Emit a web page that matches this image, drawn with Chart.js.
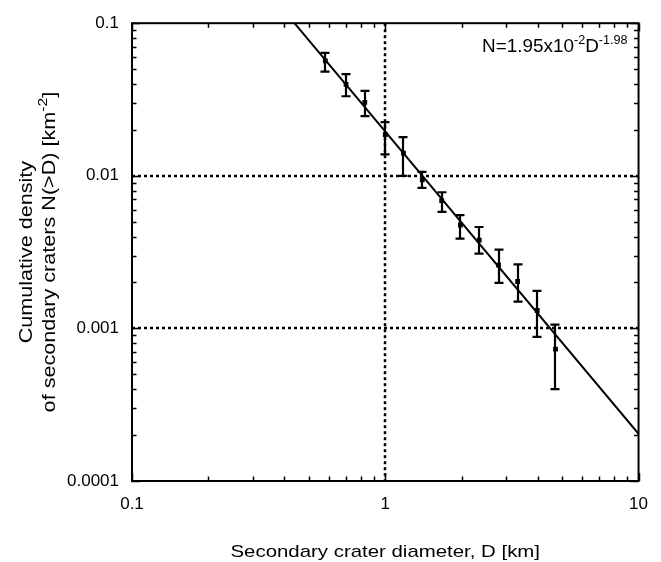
<!DOCTYPE html>
<html>
<head>
<meta charset="utf-8">
<script src="https://cdn.jsdelivr.net/npm/chart.js@4/dist/chart.umd.min.js"></script>
<style>
html,body{margin:0;padding:0;background:#fff;}
canvas{display:block;}
</style>
</head>
<body>
<canvas id="c" width="661" height="562"></canvas>
<script>
// ---- data ----
const diameters = [0.58, 0.70, 0.83, 1.0, 1.18, 1.40, 1.67, 1.98, 2.35, 2.80, 3.33, 3.98, 4.70];
const density   = [0.0566, 0.0397, 0.0303, 0.0186, 0.0141, 0.00942, 0.00687, 0.00476, 0.00379, 0.00260, 0.00203, 0.00131, 0.000732];
const errHigh   = [0.0640, 0.0464, 0.0360, 0.0225, 0.0179, 0.0106, 0.00780, 0.00552, 0.00462, 0.00328, 0.00263, 0.00176, 0.00106];
const errLow    = [0.0481, 0.0332, 0.0246, 0.0138, 0.0100, 0.00833, 0.00580, 0.00387, 0.00309, 0.00199, 0.00150, 0.000879, 0.000400];
const fitX = [0.438, 10];
const fitY = [0.1, 0.000204];
const xTickVals = [0.1, 1, 10];
const xTickLabels = ['0.1', '1', '10'];
const yTickVals = [0.0001, 0.001, 0.01, 0.1];
const yTickLabels = ['0.0001', '0.001', '0.01', '0.1'];
const xTitle = 'Secondary crater diameter, D [km]';
const yTitle1 = 'Cumulative density';
const yTitle2 = 'of secondary craters N(>D) [km';

const FONT = '"Liberation Sans", Arial, Helvetica, sans-serif';

const decorPlugin = {
  id: 'decor',
  beforeDatasetsDraw(chart) {
    const {ctx, chartArea: a, scales: {x, y}} = chart;
    ctx.save();
    ctx.strokeStyle = '#000';
    ctx.lineWidth = 2.5;
    ctx.setLineDash([3, 3]);
    xTickVals.forEach(v => {
      if (v <= x.min || v >= x.max) return;
      const px = Math.round(x.getPixelForValue(v));
      ctx.beginPath(); ctx.moveTo(px, a.top); ctx.lineTo(px, a.bottom); ctx.stroke();
    });
    yTickVals.forEach(v => {
      if (v <= y.min || v >= y.max) return;
      const py = Math.round(y.getPixelForValue(v));
      ctx.beginPath(); ctx.moveTo(a.left, py); ctx.lineTo(a.right, py); ctx.stroke();
    });
    ctx.restore();
  },
  afterDatasetsDraw(chart) {
    const {ctx, chartArea: a, scales: {x, y}} = chart;
    ctx.save();
    ctx.strokeStyle = '#000';
    ctx.setLineDash([]);
    // error bars
    ctx.lineWidth = 2.2;
    diameters.forEach((d, i) => {
      const px = Math.round(x.getPixelForValue(d));
      const y1 = y.getPixelForValue(errHigh[i]);
      const y2 = y.getPixelForValue(errLow[i]);
      ctx.beginPath();
      ctx.moveTo(px, y1); ctx.lineTo(px, y2);
      ctx.moveTo(px - 4.5, y1); ctx.lineTo(px + 4.5, y1);
      ctx.moveTo(px - 4.5, y2); ctx.lineTo(px + 4.5, y2);
      ctx.stroke();
    });
    // inward ticks
    ctx.lineWidth = 1.5;
    const major = 8, minor = 4.5;
    const drawX = (v, len) => {
      const px = Math.round(x.getPixelForValue(v)) + 0.5;
      ctx.beginPath();
      ctx.moveTo(px, a.bottom); ctx.lineTo(px, a.bottom - len);
      ctx.moveTo(px, a.top); ctx.lineTo(px, a.top + len);
      ctx.stroke();
    };
    const drawY = (v, len) => {
      const py = Math.round(y.getPixelForValue(v)) + 0.5;
      ctx.beginPath();
      ctx.moveTo(a.left, py); ctx.lineTo(a.left + len, py);
      ctx.moveTo(a.right, py); ctx.lineTo(a.right - len, py);
      ctx.stroke();
    };
    [0.1, 1].forEach(dec => { for (let k = 2; k <= 9; k++) drawX(dec * k, minor); });
    xTickVals.forEach(v => drawX(v, major));
    [0.0001, 0.001, 0.01].forEach(dec => { for (let k = 2; k <= 9; k++) drawY(dec * k, minor); });
    yTickVals.forEach(v => drawY(v, major));
    // frame
    ctx.lineWidth = 2;
    ctx.strokeRect(a.left, a.top, a.right - a.left, a.bottom - a.top);

    // texts
    ctx.fillStyle = '#000';
    ctx.textBaseline = 'alphabetic';
    // x title
    ctx.font = '17px ' + FONT;
    ctx.textAlign = 'center';
    ctx.save();
    ctx.translate((a.left + a.right) / 2, 557);
    ctx.scale(1.2, 1);
    ctx.fillText(xTitle, 0, 0);
    ctx.restore();
    // y title
    ctx.save();
    ctx.translate(0, (a.top + a.bottom) / 2);
    ctx.rotate(-Math.PI / 2);
    ctx.scale(1.2, 1);
    ctx.textAlign = 'center';
    ctx.font = '18px ' + FONT;
    ctx.fillText(yTitle1, 0, 32);
    // second line with superscript
    const main = yTitle2, sup = '-2', tail = ']';
    ctx.font = '18px ' + FONT;
    const wMain = ctx.measureText(main).width;
    const wTail = ctx.measureText(tail).width;
    ctx.font = '13px ' + FONT;
    const wSup = ctx.measureText(sup).width;
    const total = wMain + wSup + wTail;
    let sx = -total / 2;
    ctx.textAlign = 'left';
    ctx.font = '18px ' + FONT;
    ctx.fillText(main, sx, 55); sx += wMain;
    ctx.font = '13px ' + FONT;
    ctx.fillText(sup, sx, 47); sx += wSup;
    ctx.font = '18px ' + FONT;
    ctx.fillText(tail, sx, 55);
    ctx.restore();

    // fit annotation
    const parts = [
      ['N=1.95x10', 18, 0], ['-2', 12, -8], ['D', 18, 0], ['-1.98', 12, -8]
    ];
    ctx.save();
    ctx.translate(482, 52);
    ctx.scale(1.05, 1);
    ctx.textAlign = 'left';
    let ax = 0;
    parts.forEach(([t, s, dy]) => {
      ctx.font = s + 'px ' + FONT;
      ctx.fillText(t, ax, dy);
      ax += ctx.measureText(t).width;
    });
    ctx.restore();
    ctx.restore();
  }
};

const ctx = document.getElementById('c').getContext('2d');
new Chart(ctx, {
  type: 'scatter',
  data: {
    datasets: [
      {
        label: 'fit',
        data: fitX.map((v, i) => ({x: v, y: fitY[i]})),
        showLine: true,
        borderColor: '#000',
        borderWidth: 2,
        pointRadius: 0,
        fill: false
      },
      {
        label: 'secondary craters',
        data: diameters.map((v, i) => ({x: v, y: density[i]})),
        pointStyle: 'rect',
        pointRadius: 3.4,
        backgroundColor: '#000',
        borderColor: '#000',
        borderWidth: 0
      }
    ]
  },
  options: {
    responsive: false,
    animation: false,
    devicePixelRatio: 1,
    layout: {padding: {top: 15, right: 21, left: 0, bottom: 0}},
    plugins: {legend: {display: false}, tooltip: {enabled: false}},
    scales: {
      x: {
        type: 'logarithmic',
        min: 0.1, max: 10,
        grid: {display: false, drawTicks: false},
        border: {display: false},
        afterBuildTicks: s => { s.ticks = xTickVals.map(v => ({value: v})); },
        afterFit: s => { s.height = 81; },
        ticks: {
          autoSkip: false, maxRotation: 0, minRotation: 0,
          color: '#000', padding: 13,
          font: {family: FONT, size: 17},
          callback: (v, i) => xTickLabels[i]
        }
      },
      y: {
        type: 'logarithmic',
        min: 0.0001, max: 0.1,
        grid: {display: false, drawTicks: false},
        border: {display: false},
        afterBuildTicks: s => { s.ticks = yTickVals.map(v => ({value: v})); },
        afterFit: s => { s.width = 132; },
        ticks: {
          autoSkip: false,
          color: '#000', padding: 13,
          font: {family: FONT, size: 17},
          callback: (v, i) => yTickLabels[i]
        }
      }
    }
  },
  plugins: [decorPlugin]
});
</script>
</body>
</html>
